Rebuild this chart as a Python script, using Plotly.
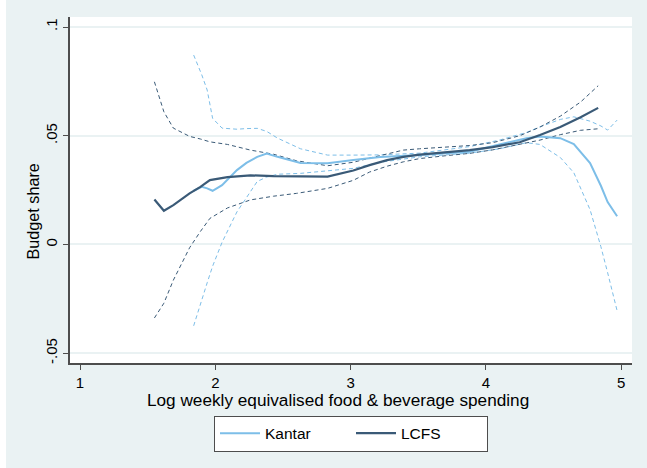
import plotly.graph_objects as go

# ---- data ----
lcfs_x = [1.55, 1.62, 1.69, 1.81, 1.89, 1.96, 2.09, 2.26, 2.43, 2.6, 2.83, 3.02,
          3.14, 3.27, 3.39, 3.51, 3.7, 3.88, 4.05, 4.25, 4.4, 4.55, 4.7, 4.83]
lcfs_fit = [0.0207, 0.0155, 0.0181, 0.0235, 0.0265, 0.0296, 0.0310, 0.0318, 0.0314, 0.0312,
            0.0312, 0.0340, 0.0365, 0.0388, 0.0403, 0.0413, 0.0423, 0.0434, 0.0448, 0.0470,
            0.0503, 0.0540, 0.0585, 0.0628]
lcfs_hi = [0.0748, 0.0610, 0.0535, 0.0497, 0.0485, 0.0472, 0.0460, 0.0434, 0.0415, 0.0385,
           0.0362, 0.0378, 0.0397, 0.0418, 0.0434, 0.0440, 0.0447, 0.0455, 0.0468, 0.0500,
           0.0540, 0.0590, 0.0655, 0.0730]
lcfs_lo = [-0.0338, -0.0270, -0.0164, -0.0015, 0.0060, 0.0120, 0.0168, 0.0205, 0.0222, 0.0235,
           0.0258, 0.0295, 0.0333, 0.0360, 0.0380, 0.0395, 0.0408, 0.0419, 0.0435, 0.0460,
           0.0480, 0.0505, 0.0525, 0.0532]

kantar_x = [1.84, 1.9, 1.94, 1.98, 2.05, 2.13, 2.16, 2.23, 2.31, 2.38, 2.46, 2.63, 2.83,
            3.02, 3.22, 3.51, 3.88, 4.1, 4.3, 4.4, 4.55, 4.65, 4.77, 4.85, 4.9, 4.97]
kantar_fit = [0.0247, 0.0265, 0.0258, 0.0247, 0.0273, 0.0325, 0.0342, 0.0375, 0.0403, 0.0418,
              0.0403, 0.0375, 0.0373, 0.0388, 0.0402, 0.0411, 0.0426, 0.0460, 0.0488, 0.0497,
              0.0489, 0.0462, 0.0374, 0.0270, 0.0195, 0.0130]
kantar_hi = [0.0871, 0.0780, 0.0710, 0.0580, 0.0535, 0.0532, 0.0530, 0.0533, 0.0534, 0.0520,
             0.0489, 0.0440, 0.0411, 0.0411, 0.0412, 0.0420, 0.0450, 0.0480, 0.0515, 0.0541,
             0.0575, 0.0587, 0.0567, 0.0545, 0.0526, 0.0572]
kantar_lo = [-0.0374, -0.0250, -0.0176, -0.0100, 0.0010, 0.0112, 0.0150, 0.0215, 0.0290, 0.0310,
             0.0323, 0.0327, 0.0338, 0.0350, 0.0378, 0.0403, 0.0420, 0.0440, 0.0468, 0.0460,
             0.0400, 0.0330, 0.0160, -0.0010, -0.0130, -0.0305]

y_ticks = [-0.05, 0, 0.05, 0.1]
y_tick_labels = ["-.05", "0", ".05", ".1"]
x_ticks = [1, 2, 3, 4, 5]
x_tick_labels = ["1", "2", "3", "4", "5"]
x_title = "Log weekly equivalised food & beverage spending"
y_title = "Budget share"

KANTAR = "#7DBEE8"
LCFS = "#3A5A77"
BG = "#EAF2F3"
AXIS = "#4D4D4D"
FONT = "Liberation Sans, Arial, sans-serif"

fig = go.Figure()
for ys in (kantar_hi, kantar_lo):
    fig.add_trace(go.Scatter(x=kantar_x, y=ys, mode="lines", showlegend=False,
                             line=dict(color=KANTAR, width=1, dash="4px,3px")))
for ys in (lcfs_hi, lcfs_lo):
    fig.add_trace(go.Scatter(x=lcfs_x, y=ys, mode="lines", showlegend=False,
                             line=dict(color=LCFS, width=1, dash="4px,3px")))
fig.add_trace(go.Scatter(x=kantar_x, y=kantar_fit, mode="lines", name="Kantar",
                         line=dict(color=KANTAR, width=2)))
fig.add_trace(go.Scatter(x=lcfs_x, y=lcfs_fit, mode="lines", name="LCFS",
                         line=dict(color=LCFS, width=2.2)))

fig.update_layout(
    width=647, height=468,
    margin=dict(l=70, r=15, t=17, b=105),
    paper_bgcolor=BG, plot_bgcolor="white",
    font=dict(family=FONT, size=15.5, color="#000000"),
    xaxis=dict(range=[0.926, 5.08], tickvals=x_ticks, ticktext=x_tick_labels,
               tickfont=dict(size=15), ticklabelstandoff=0,
               showgrid=False, zeroline=False, showline=True, linecolor=AXIS,
               linewidth=1.5, ticks="outside", ticklen=5, tickcolor=AXIS),
    yaxis=dict(range=[-0.0545, 0.1046], tickvals=y_ticks, ticktext=y_tick_labels,
               tickfont=dict(size=15),
               tickangle=-90, showgrid=True, gridcolor=BG, gridwidth=1.5,
               zeroline=False, showline=True, linecolor=AXIS, linewidth=1.5,
               ticks="outside", ticklen=5, tickcolor=AXIS),
    legend=dict(orientation="h", x=0.5, xanchor="center", y=-0.152, yanchor="top",
                bgcolor="white", bordercolor=AXIS, borderwidth=1,
                font=dict(size=15.5), entrywidth=81, itemwidth=40),
    annotations=[
        dict(text=x_title, xref="paper", yref="paper", x=0.476, y=-0.107,
             xanchor="center", yanchor="middle", showarrow=False, borderpad=0,
             font=dict(size=17.2)),
        dict(text=y_title, xref="paper", yref="paper", x=-0.0658, y=0.438,
             xanchor="center", yanchor="middle", textangle=-90, showarrow=False,
             borderpad=0, font=dict(size=16.2)),
    ],
    shapes=[dict(type="rect", xref="paper", yref="paper", x0=-0.13, x1=-0.1139,
                 y0=-0.31, y1=1.06, fillcolor="white", line=dict(width=0), layer="above")],
)

fig.write_html("out.html", config={"displayModeBar": False},
               post_script="document.body.style.margin='0';")
